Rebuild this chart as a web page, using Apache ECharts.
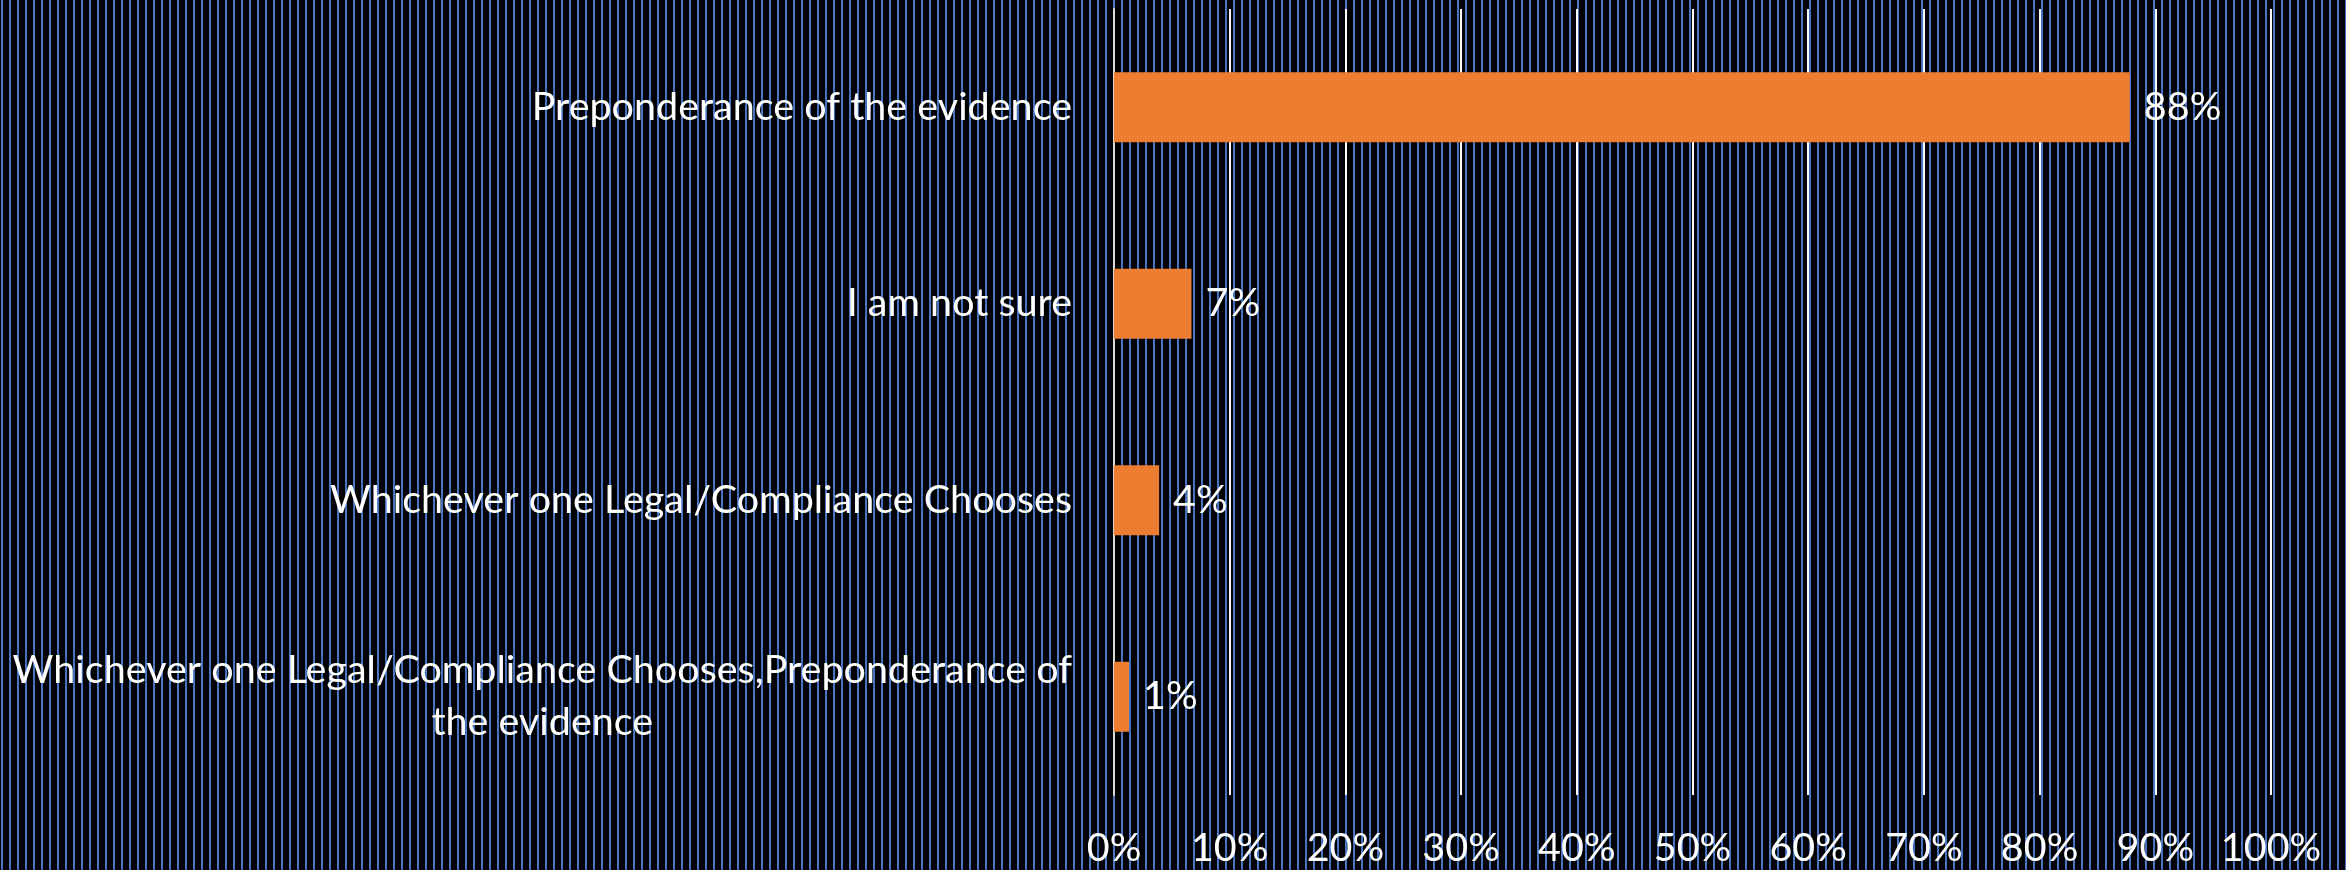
<!DOCTYPE html>
<html>
<head>
<meta charset="utf-8">
<script src="https://cdn.jsdelivr.net/npm/echarts@6/dist/echarts.min.js"></script>
<style>
  html, body { margin: 0; padding: 0; background: #000; }
  #chart {
    width: 2346px; height: 870px;
    background: repeating-linear-gradient(90deg, #000 0px, #000 1px, #4472C4 1px, #4472C4 3px, #000 3px, #000 8px);
  }
</style>
</head>
<body>
<div id="chart"></div>
<script>
const categories = [
  'Preponderance of the evidence',
  'I am not sure',
  'Whichever one Legal/Compliance Chooses',
  'Whichever one Legal/Compliance Chooses,Preponderance of\nthe evidence'
];
const values = [87.8, 6.7, 3.9, 1.3];
const xTicks = { min: 0, max: 100, interval: 10 };

const FONT = 'Lato';
const FS = 39.5;
const chart = echarts.init(document.getElementById('chart'), null, { renderer: 'canvas' });
chart.setOption({
  backgroundColor: 'transparent',
  animation: false,
  grid: { left: 1114, right: 75, top: 9, bottom: 74, containLabel: false },
  xAxis: {
    type: 'value',
    min: xTicks.min, max: xTicks.max, interval: xTicks.interval,
    axisLine: { show: false },
    axisTick: { show: false },
    splitLine: { show: true, lineStyle: { color: '#ffffff', width: 2 } },
    axisLabel: {
      color: '#ffffff', fontFamily: FONT, fontSize: FS, lineHeight: 44,
      margin: 31,
      formatter: '{value}%'
    }
  },
  yAxis: {
    type: 'category',
    inverse: true,
    data: categories,
    axisLine: { show: true, lineStyle: { color: '#d9d9d9', width: 2 } },
    axisTick: { show: false },
    axisLabel: {
      color: '#ffffff', fontFamily: FONT, fontSize: FS, lineHeight: 52,
      margin: 42,
      align: 'right',
      formatter: function (v) {
        return v.split('\n').map(function (l) { return '{c|' + l + '}'; }).join('\n');
      },
      rich: { c: { align: 'center', color: '#ffffff', fontFamily: FONT, fontSize: FS, lineHeight: 52 } }
    }
  },
  series: [{
    type: 'bar',
    data: values,
    barWidth: '35.5%',
    itemStyle: { color: '#ED7D31' },
    label: {
      show: true, position: 'right', distance: 14,
      color: '#ffffff', fontFamily: FONT, fontSize: FS,
      formatter: function (p) { return Math.round(p.value) + '%'; }
    }
  }]
});
</script>
</body>
</html>
